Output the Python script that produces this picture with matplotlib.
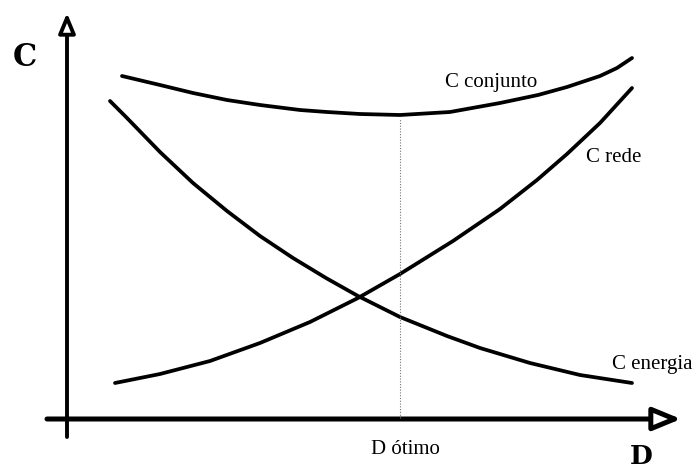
import matplotlib
matplotlib.use("Agg")
import matplotlib.pyplot as plt
from matplotlib.patches import FancyArrowPatch

# curve readings (D from the C axis, C above the D axis)
d_conjunto = [55, 93, 126, 160, 193, 233, 260, 293, 333, 383, 433, 471, 500, 533, 550, 565]
c_conjunto = [342, 333, 325, 318, 313, 308, 306, 304, 303, 306, 315, 323, 331, 342, 350, 360]

d_rede = [48, 93, 143, 193, 243, 291, 333, 386, 433, 470, 500, 533, 565]
c_rede = [35, 44, 57, 75, 96, 120, 144, 177, 209, 238, 264, 295, 330]

d_energia = [43, 60, 93, 126, 160, 193, 226, 259, 291, 333, 380, 413, 463, 513, 565]
c_energia = [317, 300, 266, 235, 207, 182, 160, 140, 122, 101, 82, 70, 55, 43, 35]

d_otimo = 333
c_otimo = 303

fig = plt.figure(figsize=(6.94, 4.70), dpi=100)
ax = fig.add_axes([0, 0, 1, 1])
ax.set_xlim(-67, 627)
ax.set_ylim(-52, 418)
ax.axis("off")

for d, c in [(d_conjunto, c_conjunto), (d_rede, c_rede), (d_energia, c_energia)]:
    ax.plot(d, c, color="black", lw=2.7, solid_capstyle="round", solid_joinstyle="round")

# optimum marker
ax.plot([d_otimo, d_otimo], [0, c_otimo - 4], color="0.45", lw=0.8, ls=(0, (1, 1.5)))

# axes as arrows
y_arrow = FancyArrowPatch((0, -19), (0, 405), arrowstyle="-|>,head_length=12,head_width=5",
                          mutation_scale=1, shrinkA=0, shrinkB=0, lw=2.8, ec="black", fc="white")
x_arrow = FancyArrowPatch((-20, -1), (614, -1), arrowstyle="-|>,head_length=17,head_width=7",
                          mutation_scale=1, shrinkA=0, shrinkB=0, lw=3.6, ec="black", fc="white")
ax.add_patch(y_arrow)
ax.add_patch(x_arrow)

serif = "Liberation Serif"
ax.text(424, 335, "C conjunto", fontsize=15, family=serif, ha="center", va="center")
ax.text(547, 261, "C rede", fontsize=15, family=serif, ha="center", va="center")
ax.text(585, 53, "C energia", fontsize=15, family=serif, ha="center", va="center")
ax.text(338, -32, "D ótimo", fontsize=15, family=serif, ha="center", va="center")

ax.text(-42, 360, "C", fontsize=22, family="DejaVu Serif", weight="bold", ha="center", va="center")
ax.text(574, -39, "D", fontsize=19, family="DejaVu Serif", weight="bold", ha="center", va="center")

fig.savefig("out.png", dpi=100)
